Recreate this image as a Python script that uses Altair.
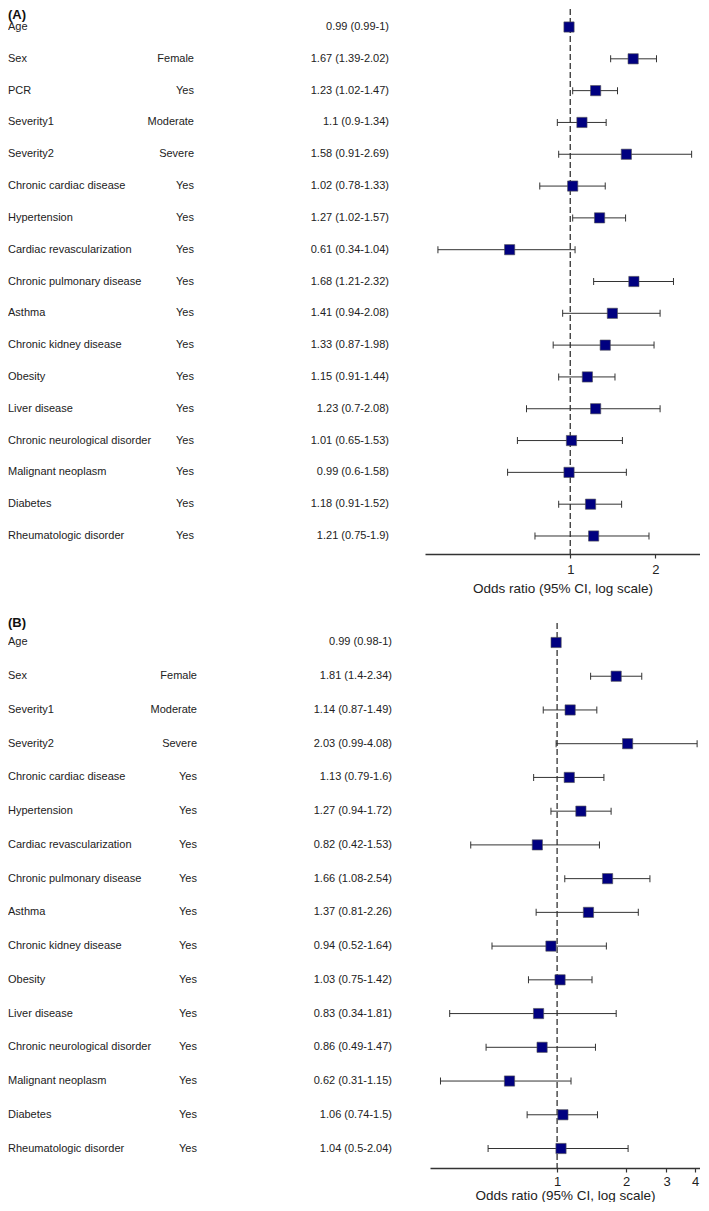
import altair as alt
import pandas as pd

FONT = "Liberation Sans"

# ---------------- Panel A ----------------
a_vars = ["Age", "Sex", "PCR", "Severity1", "Severity2", "Chronic cardiac disease",
          "Hypertension", "Cardiac revascularization", "Chronic pulmonary disease",
          "Asthma", "Chronic kidney disease", "Obesity", "Liver disease",
          "Chronic neurological disorder", "Malignant neoplasm", "Diabetes",
          "Rheumatologic disorder"]
a_levels = ["", "Female", "Yes", "Moderate", "Severe", "Yes", "Yes", "Yes", "Yes",
            "Yes", "Yes", "Yes", "Yes", "Yes", "Yes", "Yes", "Yes"]
a_or = [0.99, 1.67, 1.23, 1.1, 1.58, 1.02, 1.27, 0.61, 1.68, 1.41, 1.33, 1.15, 1.23,
        1.01, 0.99, 1.18, 1.21]
a_lo = [0.99, 1.39, 1.02, 0.9, 0.91, 0.78, 1.02, 0.34, 1.21, 0.94, 0.87, 0.91, 0.7,
        0.65, 0.6, 0.91, 0.75]
a_hi = [1.0, 2.02, 1.47, 1.34, 2.69, 1.33, 1.57, 1.04, 2.32, 2.08, 1.98, 1.44, 2.08,
        1.53, 1.58, 1.52, 1.9]
a_labels = ["0.99 (0.99-1)", "1.67 (1.39-2.02)", "1.23 (1.02-1.47)", "1.1 (0.9-1.34)",
            "1.58 (0.91-2.69)", "1.02 (0.78-1.33)", "1.27 (1.02-1.57)",
            "0.61 (0.34-1.04)", "1.68 (1.21-2.32)", "1.41 (0.94-2.08)",
            "1.33 (0.87-1.98)", "1.15 (0.91-1.44)", "1.23 (0.7-2.08)",
            "1.01 (0.65-1.53)", "0.99 (0.6-1.58)", "1.18 (0.91-1.52)", "1.21 (0.75-1.9)"]
a_domain = [0.306, 2.88]
a_ticks = [1, 2]

# ---------------- Panel B ----------------
b_vars = ["Age", "Sex", "Severity1", "Severity2", "Chronic cardiac disease",
          "Hypertension", "Cardiac revascularization", "Chronic pulmonary disease",
          "Asthma", "Chronic kidney disease", "Obesity", "Liver disease",
          "Chronic neurological disorder", "Malignant neoplasm", "Diabetes",
          "Rheumatologic disorder"]
b_levels = ["", "Female", "Moderate", "Severe", "Yes", "Yes", "Yes", "Yes", "Yes",
            "Yes", "Yes", "Yes", "Yes", "Yes", "Yes", "Yes"]
b_or = [0.99, 1.81, 1.14, 2.03, 1.13, 1.27, 0.82, 1.66, 1.37, 0.94, 1.03, 0.83, 0.86,
        0.62, 1.06, 1.04]
b_lo = [0.98, 1.4, 0.87, 0.99, 0.79, 0.94, 0.42, 1.08, 0.81, 0.52, 0.75, 0.34, 0.49,
        0.31, 0.74, 0.5]
b_hi = [1.0, 2.34, 1.49, 4.08, 1.6, 1.72, 1.53, 2.54, 2.26, 1.64, 1.42, 1.81, 1.47,
        1.15, 1.5, 2.04]
b_labels = ["0.99 (0.98-1)", "1.81 (1.4-2.34)", "1.14 (0.87-1.49)", "2.03 (0.99-4.08)",
            "1.13 (0.79-1.6)", "1.27 (0.94-1.72)", "0.82 (0.42-1.53)",
            "1.66 (1.08-2.54)", "1.37 (0.81-2.26)", "0.94 (0.52-1.64)",
            "1.03 (0.75-1.42)", "0.83 (0.34-1.81)", "0.86 (0.49-1.47)",
            "0.62 (0.31-1.15)", "1.06 (0.74-1.5)", "1.04 (0.5-2.04)"]
b_domain = [0.279, 4.2]
b_ticks = [1, 2, 3, 4]

TXT = "#222222"
LINE = "#333333"


def panel(tag, vars_, levels, ors, los, his, labels, domain, ticks,
          text_w, plot_w, plot_h, y_pad, lvl_x, or_x, tag_y, tag_base,
          label_pad, title_pad):
    df = pd.DataFrame({"var": vars_, "level": levels, "or": ors, "lo": los,
                       "hi": his, "label": labels})
    y = alt.Y("var:N", sort=vars_, axis=None,
              scale=alt.Scale(type="point", padding=y_pad))

    tbase = alt.Chart(df).encode(y=y)
    t_var = tbase.mark_text(align="left", baseline="middle", fontSize=11,
                            font=FONT, color=TXT).encode(x=alt.value(0), text="var:N")
    t_lvl = tbase.mark_text(align="right", baseline="middle", fontSize=11,
                            font=FONT, color=TXT).encode(x=alt.value(lvl_x), text="level:N")
    t_or = tbase.mark_text(align="right", baseline="middle", fontSize=11,
                           font=FONT, color=TXT).encode(x=alt.value(or_x), text="label:N")
    t_tag = alt.Chart(pd.DataFrame({"t": [tag]})).mark_text(
        align="left", baseline=tag_base, fontSize=13, fontWeight="bold",
        font=FONT, color="#111111").encode(x=alt.value(0), y=alt.value(tag_y), text="t:N")
    left = alt.layer(t_var, t_lvl, t_or, t_tag).properties(width=text_w, height=plot_h)

    xscale = alt.Scale(type="log", domain=domain, nice=False)
    xaxis = alt.Axis(values=ticks, format="d", title="Odds ratio (95% CI, log scale)",
                     grid=False, domainColor=LINE, domainWidth=1.6, tickColor=LINE,
                     tickSize=4, tickWidth=1.2, labelFontSize=13, labelColor=TXT,
                     labelPadding=label_pad, titleFontSize=13.5, titleFontWeight="normal",
                     titleColor=TXT, titlePadding=title_pad, labelFont=FONT,
                     titleFont=FONT)

    ref = alt.Chart(pd.DataFrame({"v": [1]})).mark_rule(
        strokeDash=[6, 3], color=LINE, strokeWidth=1.3).encode(
        x=alt.X("v:Q", scale=xscale, axis=xaxis))
    base = alt.Chart(df).encode(y=y)
    ci = base.mark_rule(color=LINE, strokeWidth=1).encode(
        x=alt.X("lo:Q", scale=xscale, axis=xaxis), x2="hi:Q")
    cap_lo = base.mark_tick(size=7, thickness=1, color=LINE, opacity=1).encode(
        x=alt.X("lo:Q", scale=xscale, axis=xaxis))
    cap_hi = base.mark_tick(size=7, thickness=1, color=LINE, opacity=1).encode(
        x=alt.X("hi:Q", scale=xscale, axis=xaxis))
    pt = base.mark_square(size=105, color="#000080", fill="#000080", stroke="#555555",
                          strokeWidth=0.6, opacity=1, filled=True).encode(
        x=alt.X("or:Q", scale=xscale, axis=xaxis))
    right = alt.layer(ref, ci, cap_lo, cap_hi, pt).properties(width=plot_w, height=plot_h)
    return alt.hconcat(left, right, spacing=0)


pA = panel("(A)", a_vars, a_levels, a_or, a_lo, a_hi, a_labels, a_domain, a_ticks,
           text_w=417, plot_w=275, plot_h=545, y_pad=0.566, lvl_x=186, or_x=381,
           tag_y=0, tag_base="top", label_pad=5, title_pad=5)
pB = panel("(B)", b_vars, b_levels, b_or, b_lo, b_hi, b_labels, b_domain, b_ticks,
           text_w=422, plot_w=270, plot_h=545, y_pad=0.578, lvl_x=189, or_x=384,
           tag_y=0, tag_base="middle", label_pad=3, title_pad=0)

chart = alt.vconcat(pA, pB, spacing=22).properties(padding=0).configure(
    font=FONT).configure_view(stroke=None)

chart.save("out.html", embed_options={"renderer": "svg", "actions": False})
